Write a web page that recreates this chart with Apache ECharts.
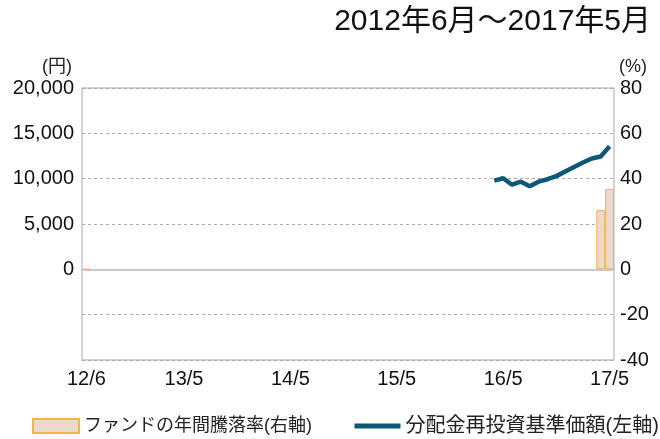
<!DOCTYPE html>
<html>
<head>
<meta charset="utf-8">
<script src="https://cdn.jsdelivr.net/npm/echarts@6/dist/echarts.min.js"></script>
<style>
  html, body { margin: 0; padding: 0; background: #fff; }
  #chart { width: 660px; height: 439px; }
</style>
</head>
<body>
<div id="chart"></div>
<script>
// 月次カテゴリ (2012/6 ～ 2017/5)
const months = [
  '12/6','12/7','12/8','12/9','12/10','12/11','12/12',
  '13/1','13/2','13/3','13/4','13/5','13/6','13/7','13/8','13/9','13/10','13/11','13/12',
  '14/1','14/2','14/3','14/4','14/5','14/6','14/7','14/8','14/9','14/10','14/11','14/12',
  '15/1','15/2','15/3','15/4','15/5','15/6','15/7','15/8','15/9','15/10','15/11','15/12',
  '16/1','16/2','16/3','16/4','16/5','16/6','16/7','16/8','16/9','16/10','16/11','16/12',
  '17/1','17/2','17/3','17/4','17/5'
];
const labelMonths = ['12/6', '13/5', '14/5', '15/5', '16/5', '17/5'];

// 分配金再投資基準価額 (円) 16/4 ～ 17/5
const navStart = '16/4';
const navValues = [9780, 10050, 9330, 9670, 9170, 9670, 9940, 10280, 10780, 11280, 11780, 12220, 12440, 13560];

// ファンドの年間騰落率 (%)
const returnMonths = ['12/6', '17/4', '17/5'];
const returnValues = [0, 26.1, 35.4];

const leftTicks = [-10000, 20000, 5000];
const rightTicks = [-40, 80, 20];

let navData = months.map(function () { return null; });
let s = months.indexOf(navStart);
navValues.forEach(function (v, i) { navData[s + i] = v; });

let barData = months.map(function () { return null; });
returnMonths.forEach(function (m, i) { barData[months.indexOf(m)] = returnValues[i]; });

const FONT = '"Liberation Sans", "Noto Sans CJK JP", sans-serif';
const showLabel = function (i) { return labelMonths.indexOf(months[i]) >= 0; };

let myChart = echarts.init(document.getElementById('chart'));
let option = {
  backgroundColor: '#fff',
  animation: false,
  textStyle: { fontFamily: FONT },
  title: {
    text: '2012年6月～2017年5月',
    right: 4,
    top: 2,
    textStyle: { fontSize: 30, fontWeight: 'normal', color: '#111', fontFamily: FONT }
  },
  graphic: [
    { type: 'text', left: 42, top: 58, style: { text: '(円)', fontSize: 18, fill: '#222', fontFamily: FONT } },
    { type: 'text', left: 619, top: 58, style: { text: '(%)', fontSize: 18, fill: '#222', fontFamily: FONT } }
  ],
  grid: {
    left: 82,
    right: 46,
    top: 88,
    bottom: 79,
    show: true,
    borderColor: '#c8c8c8',
    borderWidth: 1.5
  },
  legend: {
    top: 411,
    left: 27,
    width: 660,
    padding: [5, 0, 5, 5],
    itemGap: 40,
    itemWidth: 46,
    itemHeight: 14,
    textStyle: { fontSize: 18, color: '#222', fontFamily: FONT },
    data: [
      { name: 'ファンドの年間騰落率(右軸)', icon: 'rect' },
      {
        name: '分配金再投資基準価額(左軸)',
        itemStyle: { opacity: 0 },
        lineStyle: { width: 5 },
        textStyle: { fontSize: 20 }
      }
    ]
  },
  xAxis: {
    type: 'category',
    data: months,
    boundaryGap: true,
    axisLine: { lineStyle: { color: '#c8c8c8', width: 1.5 } },
    axisTick: {
      inside: true,
      length: 8,
      alignWithLabel: true,
      interval: showLabel,
      lineStyle: { color: '#c8c8c8' }
    },
    axisLabel: {
      interval: showLabel,
      fontSize: 20,
      color: '#111',
      margin: 9
    }
  },
  yAxis: [
    {
      type: 'value',
      min: leftTicks[0],
      max: leftTicks[1],
      interval: leftTicks[2],
      axisLine: { show: false },
      axisTick: { show: false },
      splitLine: { lineStyle: { color: '#aaa', type: [3, 3] } },
      axisLabel: {
        fontSize: 20,
        color: '#111',
        margin: 8,
        formatter: function (v) { return v < 0 ? '' : echarts.format.addCommas(v); }
      }
    },
    {
      type: 'value',
      min: rightTicks[0],
      max: rightTicks[1],
      interval: rightTicks[2],
      axisLine: { show: false },
      axisTick: { show: false },
      splitLine: { show: false },
      axisLabel: { fontSize: 20, color: '#111', margin: 6 }
    }
  ],
  series: [
    {
      name: 'ファンドの年間騰落率(右軸)',
      type: 'bar',
      yAxisIndex: 1,
      data: barData,
      barWidth: '100%',
      barCategoryGap: 0,
      itemStyle: { color: '#edd8cc', borderColor: '#f3b44c', borderWidth: 1 },
      z: 3
    },
    {
      name: '分配金再投資基準価額(左軸)',
      type: 'line',
      yAxisIndex: 0,
      data: navData,
      symbol: 'none',
      color: '#0d5877',
      lineStyle: { color: '#0d5877', width: 4.5 },
      z: 4,
      markLine: {
        silent: true,
        symbol: 'none',
        label: { show: false },
        lineStyle: { color: '#c8c8c8', type: 'solid', width: 1.5 },
        data: [{ yAxis: 0 }],
        z: 2
      }
    }
  ]
};
myChart.setOption(option);
</script>
</body>
</html>
